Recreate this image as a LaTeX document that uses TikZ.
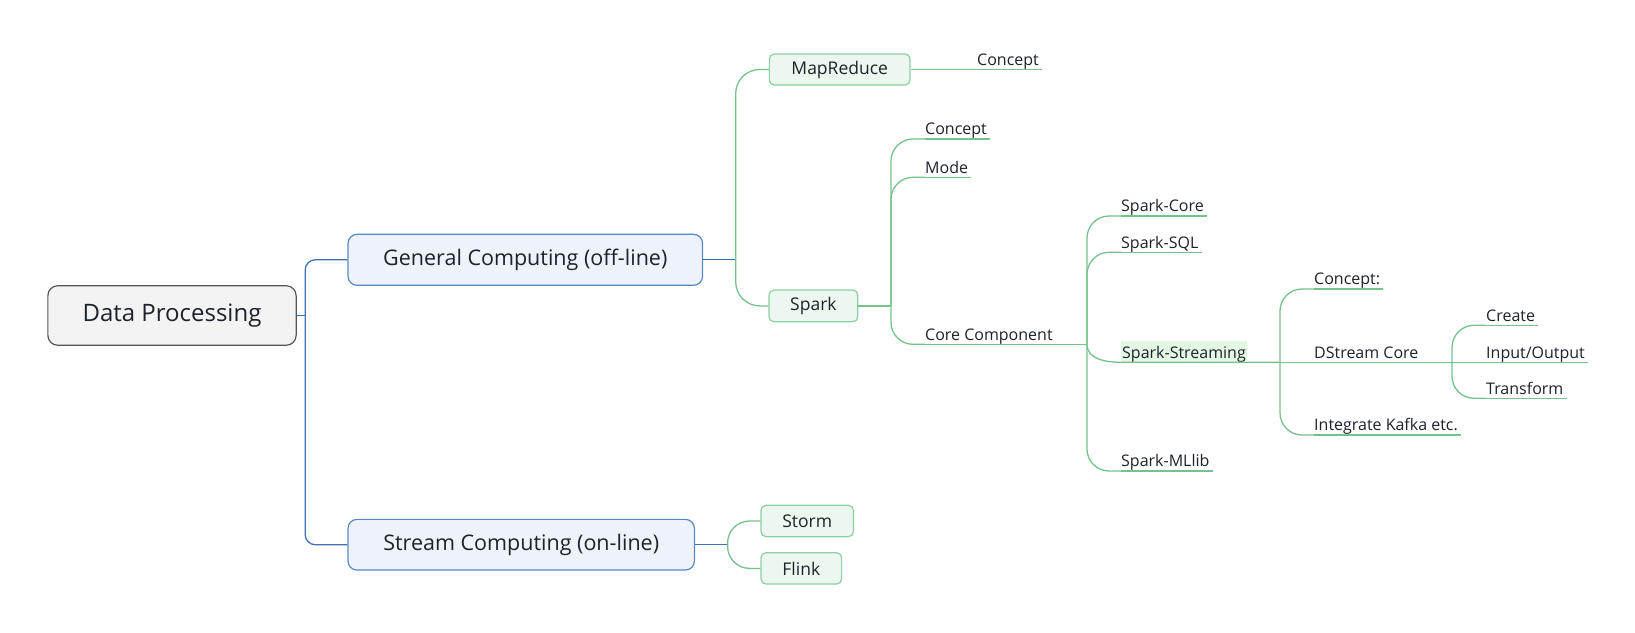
\documentclass[tikz,border=0pt]{standalone}
\usepackage{fontspec}
\setmainfont{Open Sans}
\definecolor{txt}{RGB}{30,34,42}
\definecolor{rootb}{RGB}{85,85,85}
\definecolor{rootf}{RGB}{243,243,243}
\definecolor{blueb}{RGB}{88,136,198}
\definecolor{bluef}{RGB}{238,243,251}
\definecolor{bluel}{RGB}{64,112,180}
\definecolor{greenb}{RGB}{140,208,160}
\definecolor{greenf}{RGB}{236,247,239}
\definecolor{greenl}{RGB}{118,194,140}
\definecolor{hl}{RGB}{228,247,228}
\tikzset{
  every node/.style={text=txt},
  rootbox/.style={draw=rootb, fill=rootf, rounded corners=10pt, line width=1.2pt, font=\fontsize{24}{28}\selectfont, inner sep=0pt},
  mainbox/.style={draw=blueb, fill=bluef, rounded corners=9pt, line width=1.2pt, font=\fontsize{21.5}{26}\selectfont, inner sep=0pt},
  subbox/.style={draw=greenb, fill=greenf, rounded corners=5pt, line width=1.2pt, font=\fontsize{17.5}{21}\selectfont, inner sep=0pt},
  leaf/.style={font=\fontsize{16}{19}\selectfont, inner xsep=0pt, inner ysep=0.5pt, text depth=3.5pt, anchor=south west},
  bline/.style={draw=bluel, line width=1.3pt},
  gline/.style={draw=greenl, line width=1.3pt},
  branch/.style={gline, rounded corners=22pt},
}
\begin{document}
\begin{tikzpicture}[x=1pt,y=-1pt]
\fill[white] (0,0) rectangle (1635,632);
\useasboundingbox (0,0) rectangle (1635,632);

% main boxes
\node[rootbox, minimum width=248.3pt, minimum height=59.6pt] (root) at (172,315.5) {Data Processing};
\node[mainbox, minimum width=354.5pt, minimum height=51pt] (gc) at (525.3,259.8) {General Computing (off-line)};
\node[mainbox, minimum width=346.4pt, minimum height=50.7pt] (sc) at (521.2,544.7) {Stream Computing (on-line)};
\node[subbox, minimum width=140.7pt, minimum height=31pt] (mr) at (839.7,69.5) {MapReduce};
\node[subbox, minimum width=88.7pt, minimum height=31.7pt] (spark) at (813.4,305.9) {Spark};
\node[subbox, minimum width=92.4pt, minimum height=31.4pt] (storm) at (807.2,521) {Storm};
\node[subbox, minimum width=80.6pt, minimum height=31.3pt] (flink) at (801.3,568.4) {Flink};

% root connectors
\coordinate (rj) at (305.2,315.5);
\draw[bline] (root.east) -- (rj);
\draw[bline, rounded corners=10pt] (rj) |- (gc.west);
\draw[bline, rounded corners=10pt] (rj) |- (sc.west);

% general computing
\coordinate (gcj) at (735.7,259.8);
\draw[bline] (gc.east) -- (gcj);
\draw[gline, rounded corners=24pt] (gcj) |- (mr.west);
\draw[gline, rounded corners=24pt] (gcj) |- (spark.west);

% mapreduce
\node[leaf] (mrc) at (977,69.5) {Concept};
\draw[gline] (mr.east) -- (mrc.south west) -- ([xshift=3pt]mrc.south east);

% spark
\coordinate (sj) at (891,305.9);
\draw[gline] (spark.east) -- (sj);
\node[leaf] (spc) at (925,139) {Concept};
\node[leaf] (mode) at (925,177.3) {Mode};
\node[leaf] (cc) at (925,344.3) {Core Component};
\coordinate (ccj) at (1087,344.3);
\draw[branch] (sj) |- (spc.south west);
\draw[gline] (spc.south west) -- ([xshift=3pt]spc.south east);
\draw[branch] (sj) |- (mode.south west);
\draw[gline] (mode.south west) -- ([xshift=3pt]mode.south east);
\draw[branch] (sj) |- (cc.south west);
\draw[gline] (cc.south west) -- (ccj);

% core components
\node[leaf] (score) at (1121,216) {Spark-Core};
\node[leaf] (ssql) at (1121,252.3) {Spark-SQL};
\node[leaf, fill=hl, inner xsep=1pt, text height=16.8pt] (ss) at (1121,362.3) {Spark-Streaming};
\node[leaf] (sml) at (1121,471) {Spark-MLlib};
\coordinate (ssj) at (1280,362.3);
\draw[branch] (ccj) |- (score.south west);
\draw[gline] (score.south west) -- ([xshift=3pt]score.south east);
\draw[branch] (ccj) |- (ssql.south west);
\draw[gline] (ssql.south west) -- ([xshift=3pt]ssql.south east);
\draw[branch] (ccj) |- (sml.south west);
\draw[gline] (sml.south west) -- ([xshift=3pt]sml.south east);
\draw[gline] (ccj) to[out=-90,in=180] (ss.south west) -- (ssj);

% spark streaming
\node[leaf] (scon) at (1314,289) {Concept:};
\node[leaf] (dsc) at (1314,362.3) {DStream Core};
\node[leaf] (kaf) at (1314,435) {Integrate Kafka etc.};
\coordinate (dsj) at (1452,362.3);
\draw[branch] (ssj) |- (scon.south west);
\draw[gline] (scon.south west) -- ([xshift=3pt]scon.south east);
\draw[branch] (ssj) |- (kaf.south west);
\draw[gline] (kaf.south west) -- ([xshift=3pt]kaf.south east);
\draw[gline] (ssj) -- (dsc.south west) -- (dsj);

% dstream core
\node[leaf] (cre) at (1486,325.3) {Create};
\node[leaf] (io) at (1486,362.3) {Input/Output};
\node[leaf] (tra) at (1486,398.3) {Transform};
\draw[branch] (dsj) |- (cre.south west);
\draw[gline] (cre.south west) -- ([xshift=3pt]cre.south east);
\draw[branch] (dsj) |- (tra.south west);
\draw[gline] (tra.south west) -- ([xshift=3pt]tra.south east);
\draw[gline] (dsj) -- (io.south west) -- ([xshift=3pt]io.south east);

% stream computing
\coordinate (scj) at (727.6,544.7);
\draw[bline] (sc.east) -- (scj);
\draw[branch] (scj) |- (storm.west);
\draw[branch] (scj) |- (flink.west);
\end{tikzpicture}
\end{document}
